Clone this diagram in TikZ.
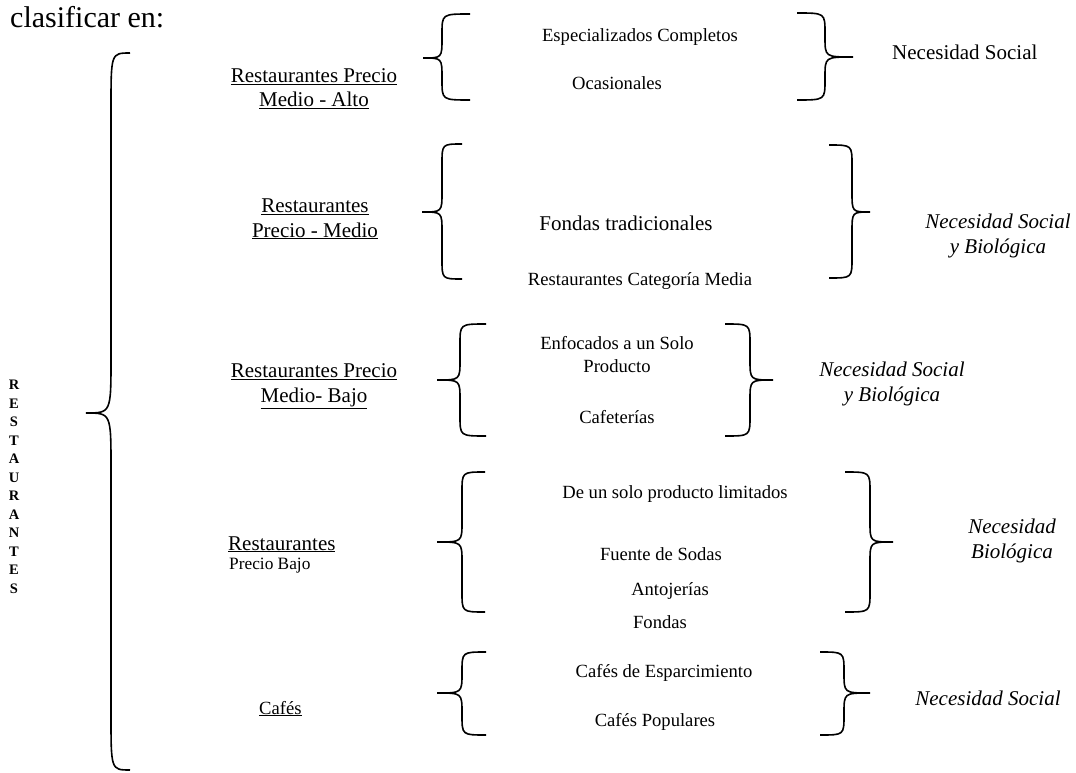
\documentclass[tikz,border=0pt]{standalone}
\usepackage{fontspec}
\setmainfont{Liberation Serif}
\usetikzlibrary{positioning}

\tikzset{
  cat/.style={align=center, inner sep=0pt, anchor=base, font=\fontsize{21}{24.5}\selectfont},
  item/.style={align=center, inner sep=0pt, anchor=base, font=\fontsize{18.6}{23}\selectfont},
  need/.style={align=center, inner sep=0pt, anchor=base, font=\fontsize{21}{25}\selectfont\itshape},
  bracket/.style={line width=1.6pt}
}

\newcommand{\curlybrace}[7]{%
  \draw[bracket] (#1,#4) .. controls (#2,#4) .. (#2,#4+#7) -- (#2,#5-#7)
    .. controls (#2,#5) .. (#3,#5) .. controls (#2,#5) .. (#2,#5+#7)
    -- (#2,#6-#7) .. controls (#2,#6) .. (#1,#6);}

\begin{document}
\begin{tikzpicture}[x=1pt, y=-1pt]
            \useasboundingbox (0,0) rectangle (1076,773);

            \node [anchor=base west,inner sep=0pt,font=\fontsize{30}{36}\selectfont] (intro) at (10,28) {clasificar en:};
            \node [anchor=north,inner sep=0pt,align=center,font=\fontsize{14.5}{18.5}\selectfont\bfseries] (rest) at (14,380) {R\\E\\S\\T\\A\\U\\R\\A\\N\\T\\E\\S};
            \curlybrace{130}{111}{86}{53}{413}{770}{55}

            \node [cat] (alto) at (314,107) {\underline{Restaurantes Precio}\\\underline{Medio - Alto}};
            \node [cat] (medio) at (315,237) {\underline{Restaurantes}\\\underline{Precio - Medio}};
            \node [cat] (mbajo) at (314,402) {\underline{Restaurantes Precio}\\\underline{Medio- Bajo}};
            \node [cat,anchor=base west] (bajo) at (228,550) {\underline{Restaurantes}};
            \node [item,anchor=base west,font=\fontsize{17.3}{20}\selectfont] (bajosub) at (229,569) {Precio Bajo};
            \node [item,anchor=base west] (cafes) at (259,714) {\underline{Cafés}};

            \curlybrace{470}{442}{423}{14}{58}{100}{20}
            \curlybrace{462}{442}{422}{144}{212}{279}{20}
            \curlybrace{486}{460}{437}{324}{380}{436}{20}
            \curlybrace{485}{462}{437}{472}{542}{612}{20}
            \curlybrace{486}{462}{437}{652}{693}{735}{20}

            \node [item] (espec) at (640,42) {Especializados Completos};
            \node [item] (ocas) at (617,90) {Ocasionales};
            \node [item,font=\fontsize{21}{25}\selectfont] (fondtrad) at (626,230) {Fondas tradicionales};
            \node [item] (catmedia) at (640,285) {Restaurantes Categoría Media};
            \node [item] (enfoc) at (617,372) {Enfocados a un Solo\\Producto};
            \node [item] (cafet) at (617,423) {Cafeterías};
            \node [item] (unsolo) at (675,498) {De un solo producto limitados};
            \node [item] (fuente) at (661,560) {Fuente de Sodas};
            \node [item] (antoj) at (670,595) {Antojerías};
            \node [item] (fondas) at (660,628) {Fondas};
            \node [item] (esparc) at (664,677) {Cafés de Esparcimiento};
            \node [item] (popul) at (655,726) {Cafés Populares};

            \curlybrace{797}{825}{853}{13}{57}{100}{20}
            \curlybrace{829}{852}{870}{145}{212}{278}{20}
            \curlybrace{725}{750}{773}{324}{380}{436}{20}
            \curlybrace{845}{870}{893}{472}{542}{612}{20}
            \curlybrace{820}{844}{870}{652}{693}{735}{20}

            \node [need,font=\fontsize{21}{25}\selectfont,anchor=base west] (nec1) at (892,60) {Necesidad Social};
            \node [need] (nec2) at (998,253) {Necesidad Social\\y Biológica};
            \node [need] (nec3) at (892,401) {Necesidad Social\\y Biológica};
            \node [need] (nec4) at (1012,558) {Necesidad\\Biológica};
            \node [need] (nec5) at (988,705) {Necesidad Social};
        \end{tikzpicture}
\end{document}
